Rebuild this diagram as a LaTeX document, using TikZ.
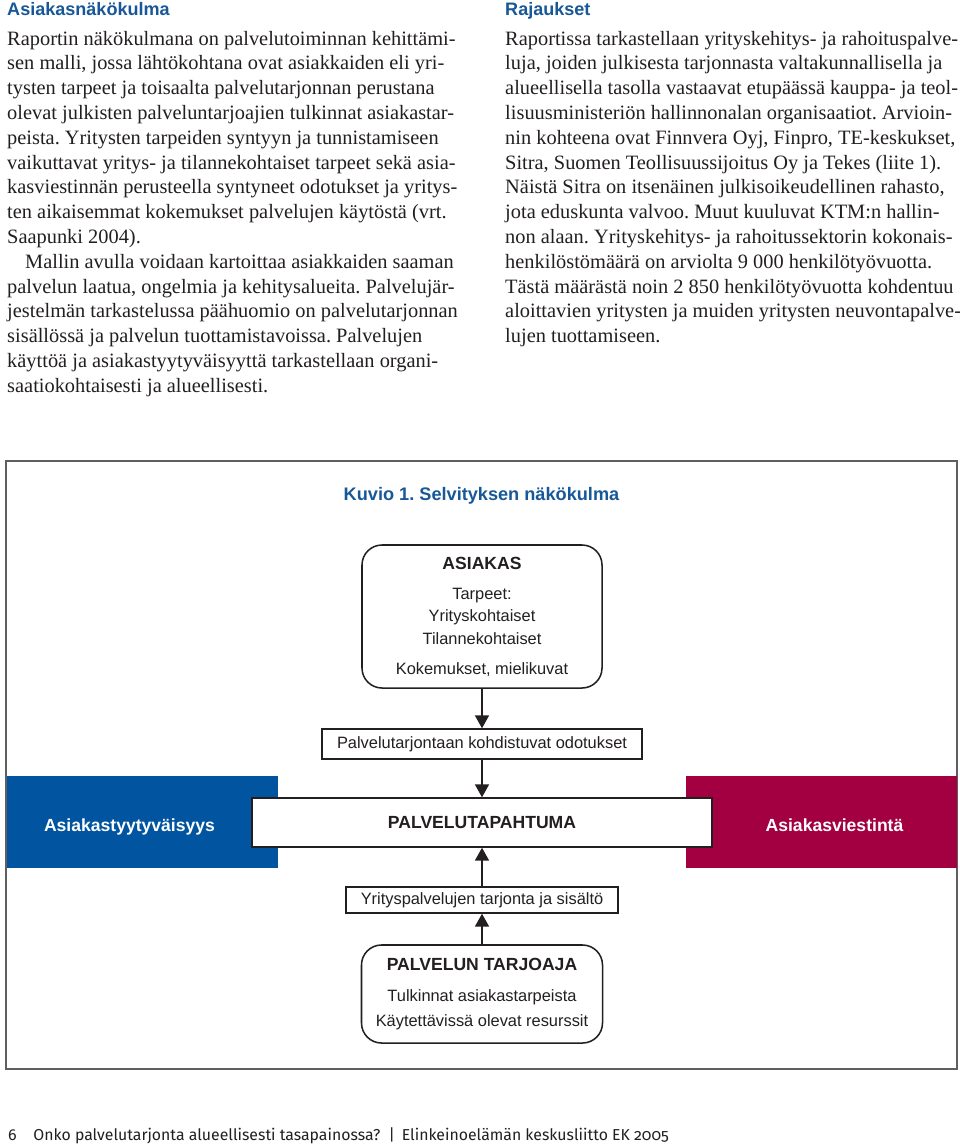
\documentclass[tikz,border=0pt]{standalone}
\usepackage{fontspec}
\setmainfont{Liberation Serif}
\setsansfont{Liberation Sans}
\newfontfamily\footfont[Numbers=OldStyle]{Fira Sans}
\usetikzlibrary{arrows.meta, positioning}

\definecolor{ekblue}{RGB}{0,84,160}
\definecolor{ekhead}{RGB}{24,88,152}
\definecolor{ekred}{RGB}{163,0,66}
\definecolor{ekink}{RGB}{35,31,32}
\definecolor{ekframe}{RGB}{95,95,95}

\newcommand{\bodyfont}{\frenchspacing\fontsize{17.4}{21}\selectfont}
\newcommand{\headfont}{\frenchspacing\sffamily\bfseries\fontsize{15.4}{18}\selectfont}
\newcommand{\figfont}{\sffamily\fontsize{14}{17}\selectfont}
\newcommand{\figbold}{\sffamily\bfseries\fontsize{15}{18}\selectfont}

\begin{document}
\begin{tikzpicture}[x=0.03cm, y=-0.03cm,
      txt/.style={anchor=base west, inner sep=0pt, font=\bodyfont, text=ekink},
      head/.style={anchor=base west, inner sep=0pt, font=\headfont, text=ekhead},
      lbl/.style={anchor=base, inner sep=0pt, font=\figfont, text=ekink},
      lblb/.style={anchor=base, inner sep=0pt, font=\figbold, text=ekink},
      rbox/.style={draw=ekink, line width=1.3pt, rounded corners=0.6cm, fill=white},
      sbox/.style={draw=ekink, line width=1.3pt, fill=white},
      side/.style={draw=none, minimum width=8.13cm, minimum height=2.76cm},
      sidelbl/.style={anchor=base, inner sep=0pt, font=\figbold, text=white},
      flow/.style={-{Triangle[width=12pt, length=11pt]}, line width=1.3pt, draw=ekink}]
  \useasboundingbox[fill=white] (0,0) rectangle (960,1144);

  % two text columns
  \node[head] (lhead) at (7,15) {Asiakasnäkökulma};
  \foreach \line [count=\i from 0] in {
      {Raportin näkökulmana on palvelutoiminnan kehittämi-},
      {sen malli, jossa lähtökohtana ovat asiakkaiden eli yri-},
      {tysten tarpeet ja toisaalta palvelutarjonnan perustana},
      {olevat julkisten palveluntarjoajien tulkinnat asiakastar-},
      {peista. Yritysten tarpeiden syntyyn ja tunnistamiseen},
      {vaikuttavat yritys- ja tilannekohtaiset tarpeet sekä asia-},
      {kasviestinnän perusteella syntyneet odotukset ja yritys-},
      {ten aikaisemmat kokemukset palvelujen käytöstä (vrt.},
      {Saapunki 2004).},
      {\hspace*{0.54cm}Mallin avulla voidaan kartoittaa asiakkaiden saaman},
      {palvelun laatua, ongelmia ja kehitysalueita. Palvelujär-},
      {jestelmän tarkastelussa päähuomio on palvelutarjonnan},
      {sisällössä ja palvelun tuottamistavoissa. Palvelujen},
      {käyttöä ja asiakastyytyväisyyttä tarkastellaan organi-},
      {saatiokohtaisesti ja alueellisesti.}}
    \node[txt] (left\i) at (7,{45+24.8*\i}) {\line};

  \node[head] (rhead) at (505,15) {Rajaukset};
  \foreach \line [count=\i from 0] in {
      {Raportissa tarkastellaan yrityskehitys- ja rahoituspalve-},
      {luja, joiden julkisesta tarjonnasta valtakunnallisella ja},
      {alueellisella tasolla vastaavat etupäässä kauppa- ja teol-},
      {lisuusministeriön hallinnonalan organisaatiot. Arvioin-},
      {nin kohteena ovat Finnvera Oyj, Finpro, TE-keskukset,},
      {Sitra, Suomen Teollisuussijoitus Oy ja Tekes (liite 1).},
      {Näistä Sitra on itsenäinen julkisoikeudellinen rahasto,},
      {jota eduskunta valvoo. Muut kuuluvat KTM:n hallin-},
      {non alaan. Yrityskehitys- ja rahoitussektorin kokonais-},
      {henkilöstömäärä on arviolta 9 000 henkilötyövuotta.},
      {Tästä määrästä noin 2 850 henkilötyövuotta kohdentuu},
      {aloittavien yritysten ja muiden yritysten neuvontapalve-},
      {lujen tuottamiseen.}}
    \node[txt] (right\i) at (505,{45+24.8*\i}) {\line};

  % figure
  \draw[ekframe, line width=0.9pt] (6,461) rectangle (957,1069);
  \node[anchor=base, inner sep=0pt, font=\headfont\fontsize{15.5}{18}\selectfont, text=ekhead] (title) at (481.5,500) {Kuvio 1. Selvityksen näkökulma};

  \node[rbox, minimum width=7.2cm, minimum height=4.29cm] (asiakas) at (482,616.5) {};
  \node[lblb] (asiakasT) at (482,569) {ASIAKAS};
  \node[lbl] (tarpeet) at (482,599) {Tarpeet:};
  \node[lbl] (yrkoht) at (482,621) {Yrityskohtaiset};
  \node[lbl] (tilkoht) at (482,644) {Tilannekohtaiset};
  \node[lbl] (kokem) at (482,674) {Kokemukset, mielikuvat};

  \node[sbox, minimum width=9.6cm, minimum height=0.9cm, font=\figfont, text=ekink] (odotus) at (482,744) {Palvelutarjontaan kohdistuvat odotukset};

  \node[side, fill=ekblue] (tyyty) at (142.5,822) {};
  \node[side, fill=ekred] (viesti) at (821.5,822) {};
  \node[sidelbl] (tyytyT) at (129.5,831) {Asiakastyytyväisyys};
  \node[sidelbl] (viestiT) at (834.5,831) {Asiakasviestintä};
  \node[sbox, minimum width=13.8cm, minimum height=1.47cm, font=\figbold, text=ekink] (tapahtuma) at (482,822.5) {PALVELUTAPAHTUMA};

  \node[sbox, minimum width=8.16cm, minimum height=0.78cm, font=\figfont, text=ekink] (tarjonta) at (482,900) {Yrityspalvelujen tarjonta ja sisältö};

  \node[rbox, minimum width=7.23cm, minimum height=2.94cm] (tarjoaja) at (482,994) {};
  \node[lblb] (tarjoajaT) at (482,970) {PALVELUN TARJOAJA};
  \node[lbl] (tulk) at (482,1001) {Tulkinnat asiakastarpeista};
  \node[lbl] (resurs) at (482,1026) {Käytettävissä olevat resurssit};

  \draw[flow] (asiakas.south) -- (odotus.north);
  \draw[flow] (odotus.south) -- (tapahtuma.north);
  \draw[flow] (tarjonta.north) -- (tapahtuma.south);
  \draw[flow] (tarjoaja.north) -- (tarjonta.south);

  % footer
  \node[anchor=base west, inner sep=0pt, font=\footfont\fontsize{13.5}{16}\selectfont, text=ekink] (foot) at (8,1140) {6\hspace{0.5cm}Onko palvelutarjonta alueellisesti tasapainossa? \,|\, Elinkeinoelämän keskusliitto EK 2005};
\end{tikzpicture}
\end{document}
